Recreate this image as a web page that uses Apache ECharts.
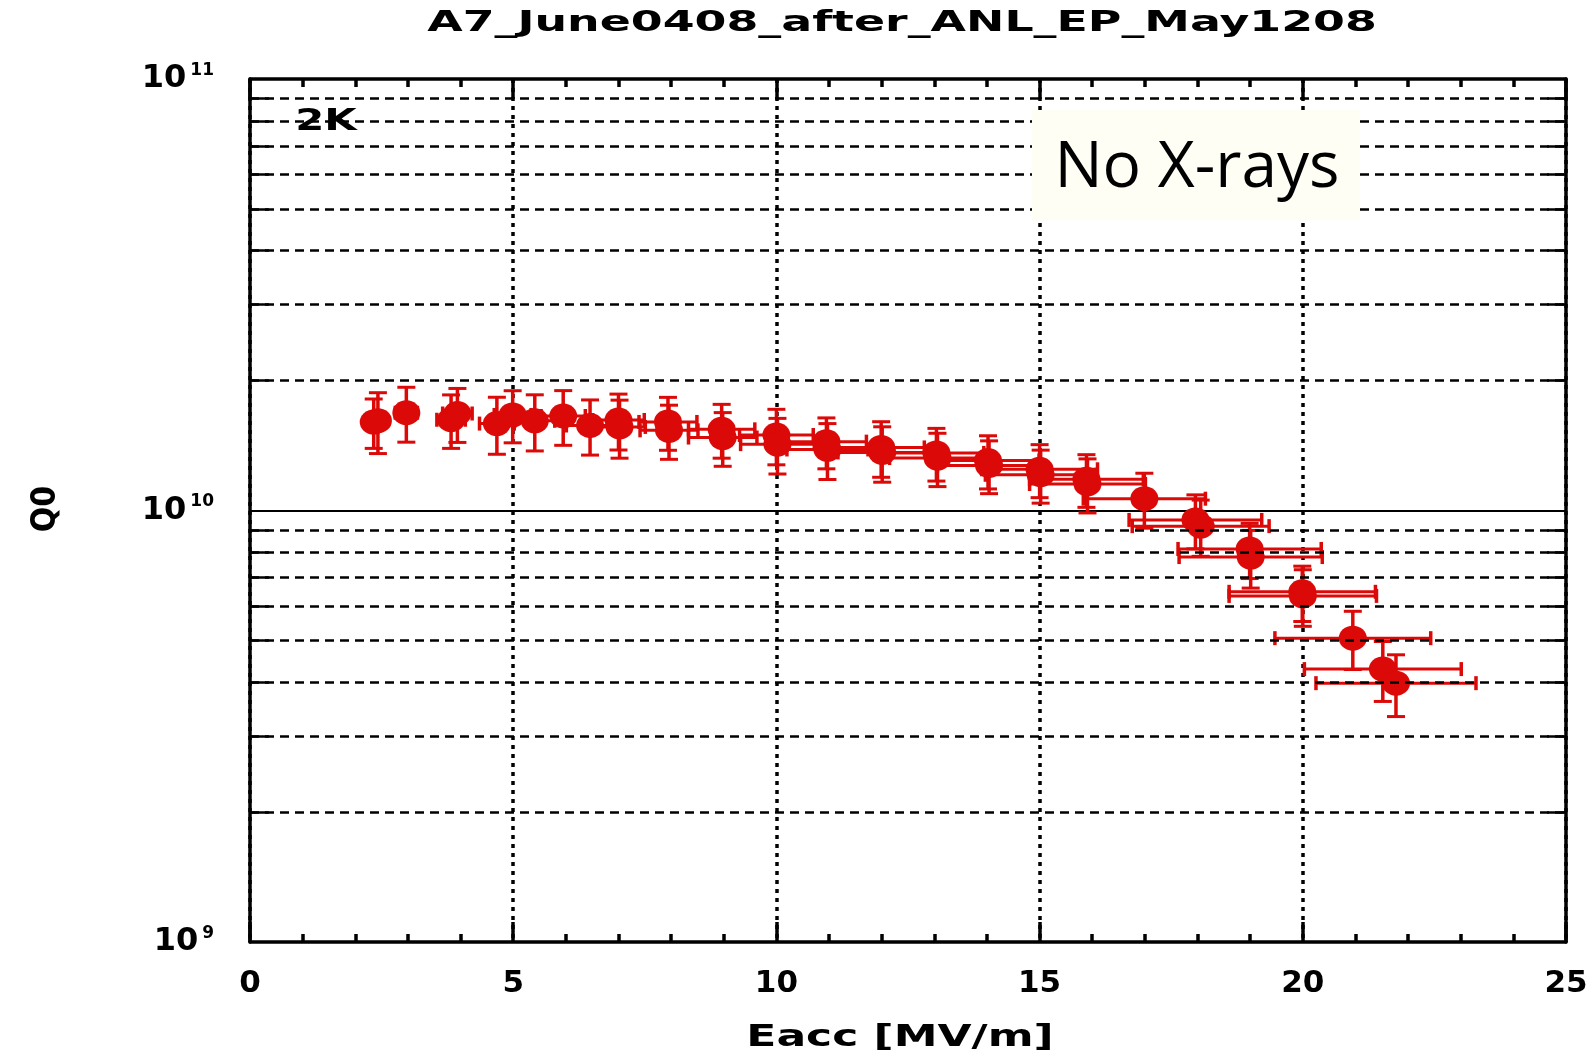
<!DOCTYPE html>
<html>
<head>
<meta charset="utf-8">
<script src="https://cdn.jsdelivr.net/npm/echarts@6/dist/echarts.min.js"></script>
<style>
html,body{margin:0;padding:0;background:#fff;}
#chart{width:1595px;height:1057px;}
</style>
</head>
<body>
<div id="chart"></div>
<script>
// ---- data ----
const eacc = [2.35, 2.43, 2.97, 3.82, 3.94, 4.69, 4.99, 5.41, 5.95, 6.46, 7.00, 7.02, 7.94, 7.96, 8.96, 8.98, 10.00, 10.02, 10.95, 10.97, 11.99, 12.01, 13.04, 13.06, 14.02, 14.04, 15.00, 15.02, 15.89, 15.91, 16.99, 17.96, 18.06, 18.99, 19.01, 19.99, 20.00, 20.95, 21.52, 21.77];
const q0 = [1.603e10, 1.615e10, 1.685e10, 1.623e10, 1.678e10, 1.590e10, 1.665e10, 1.614e10, 1.656e10, 1.574e10, 1.621e10, 1.562e10, 1.604e10, 1.534e10, 1.542e10, 1.476e10, 1.496e10, 1.425e10, 1.444e10, 1.385e10, 1.400e10, 1.363e10, 1.360e10, 1.323e10, 1.306e10, 1.272e10, 1.246e10, 1.210e10, 1.182e10, 1.152e10, 1.065e10, 9.51e9, 9.20e9, 8.145e9, 7.80e9, 6.48e9, 6.34e9, 5.06e9, 4.29e9, 3.98e9];
const eaccErr = [0.16, 0.17, 0.21, 0.27, 0.28, 0.33, 0.35, 0.38, 0.42, 0.45, 0.49, 0.49, 0.55, 0.55, 0.63, 0.65, 0.70, 0.70, 0.76, 0.77, 0.82, 0.84, 0.90, 0.91, 0.97, 0.98, 1.10, 1.05, 1.08, 1.10, 1.16, 1.26, 1.30, 1.36, 1.36, 1.39, 1.40, 1.48, 1.49, 1.52];
const q0Err = [0.21e10, 0.26e10, 0.245e10, 0.23e10, 0.24e10, 0.24e10, 0.23e10, 0.24e10, 0.24e10, 0.23e10, 0.24e10, 0.24e10, 0.225e10, 0.22e10, 0.22e10, 0.21e10, 0.22e10, 0.21e10, 0.195e10, 0.205e10, 0.206e10, 0.20e10, 0.19e10, 0.187e10, 0.184e10, 0.178e10, 0.175e10, 0.17e10, 0.165e10, 0.165e10, 0.155e10, 1.36e9, 1.37e9, 1.19e9, 1.19e9, 0.95e9, 0.95e9, 0.78e9, 0.68e9, 0.65e9];
const xTickLabels = ['0', '5', '10', '15', '20', '25'];
const yDecades = [1e9, 1e10, 1e11];
const minorGridValues = [2e9, 3e9, 4e9, 5e9, 6e9, 7e9, 8e9, 9e9, 2e10, 3e10, 4e10, 5e10, 6e10, 7e10, 8e10, 9e10];
const titleText = 'A7_June0408_after_ANL_EP_May1208';
const xAxisName = 'Eacc [MV/m]';
const yAxisName = 'Q0';
const tempLabel = '2K';
const noteText = 'No X-rays';

// ---- build chart ----
const RED = '#dc0909';
const chart = echarts.init(document.getElementById('chart'), null, {renderer: 'canvas'});

const errData = eacc.map((e, i) => [e, q0[i], e - eaccErr[i], e + eaccErr[i], q0[i] - q0Err[i], q0[i] + q0Err[i]]);
const ptData = eacc.map((e, i) => [e, q0[i]]);

const lblFont = {fontFamily: 'DejaVu Sans', fontWeight: 'bold', color: '#000'};

const markData = [];
minorGridValues.forEach(v => {
  markData.push({yAxis: v});
  markData.push([{coord: [0, v], lineStyle: {type: 'solid', width: 2.5}}, {coord: [0.36, v]}]);
  markData.push([{coord: [24.64, v], lineStyle: {type: 'solid', width: 2.5}}, {coord: [25, v]}]);
});

const option = {
  backgroundColor: '#ffffff',
  animation: false,
  grid: {left: 250, top: 79, width: 1316, height: 863, containLabel: false},
  xAxis: [{
    type: 'value', min: 0, max: 25, interval: 5, position: 'bottom',
    axisLine: {onZero: false, lineStyle: {color: '#000', width: 3.5}},
    axisTick: {inside: true, length: 20, lineStyle: {color: '#000', width: 3.5}},
    minorTick: {show: true, splitNumber: 5, length: 8, lineStyle: {color: '#000', width: 3.5}},
    splitLine: {show: true, lineStyle: {color: '#000', width: 3.5, type: [4, 5]}},
    axisLabel: Object.assign({fontSize: 31, margin: 26,
      formatter: v => xTickLabels[Math.round(v / 5)]}, lblFont)
  }, {
    type: 'value', min: 0, max: 25, interval: 5, position: 'top',
    axisLine: {onZero: false, lineStyle: {color: '#000', width: 3.5}},
    axisTick: {inside: true, length: 20, lineStyle: {color: '#000', width: 3.5}},
    minorTick: {show: true, splitNumber: 5, length: 8, lineStyle: {color: '#000', width: 3.5}},
    splitLine: {show: false},
    axisLabel: {show: false}
  }],
  yAxis: [{
    type: 'log', logBase: 10, min: yDecades[0], max: yDecades[2], position: 'left',
    axisLine: {onZero: false, lineStyle: {color: '#000', width: 3.5}},
    axisTick: {show: false},
    splitLine: {show: true, lineStyle: {color: '#000', width: 2, type: 'solid'}},
    axisLabel: {
      margin: 36,
      formatter: v => '{b|10}{s|' + Math.round(Math.log10(v)) + '}',
      rich: {
        b: Object.assign({fontSize: 32, lineHeight: 34}, lblFont),
        s: Object.assign({fontSize: 17, lineHeight: 17, verticalAlign: 'top', padding: [0, 0, 38, 4]}, lblFont)
      }
    }
  }, {
    type: 'log', logBase: 10, min: yDecades[0], max: yDecades[2], position: 'right',
    axisLine: {onZero: false, lineStyle: {color: '#000', width: 3.5}},
    axisTick: {show: false}, splitLine: {show: false}, axisLabel: {show: false}
  }],
  series: [{
    type: 'custom',
    xAxisIndex: 0, yAxisIndex: 0,
    data: errData,
    encode: {x: [0, 2, 3], y: [1, 4, 5]},
    z: 3,
    renderItem: function (params, api) {
      const x = api.value(0), y = api.value(1);
      const c = api.coord([x, y]);
      const l = api.coord([api.value(2), y]);
      const r = api.coord([api.value(3), y]);
      const b = api.coord([x, api.value(4)]);
      const t = api.coord([x, api.value(5)]);
      const hc = 9, vc = 7;
      const st = {stroke: RED, lineWidth: 3.5};
      const sh = {stroke: RED, lineWidth: 3};
      return {type: 'group', children: [
        {type: 'line', shape: {x1: c[0], y1: t[1], x2: c[0], y2: b[1]}, style: st},
        {type: 'line', shape: {x1: c[0] - hc, y1: t[1], x2: c[0] + hc, y2: t[1]}, style: sh},
        {type: 'line', shape: {x1: c[0] - hc, y1: b[1], x2: c[0] + hc, y2: b[1]}, style: sh},
        {type: 'line', shape: {x1: l[0], y1: c[1], x2: r[0], y2: c[1]}, style: sh},
        {type: 'line', shape: {x1: l[0], y1: c[1] - vc, x2: l[0], y2: c[1] + vc}, style: st},
        {type: 'line', shape: {x1: r[0], y1: c[1] - vc, x2: r[0], y2: c[1] + vc}, style: st}
      ]};
    }
  }, {
    type: 'scatter',
    xAxisIndex: 0, yAxisIndex: 0,
    data: ptData,
    symbol: 'circle',
    symbolSize: [28, 25],
    itemStyle: {color: RED, opacity: 1},
    z: 4,
    markLine: {
      silent: true, symbol: 'none', animation: false,
      label: {show: false},
      lineStyle: {color: '#000', width: 2.5, type: [9, 6]},
      emphasis: {disabled: true},
      data: markData
    }
  }],
  graphic: [
    {type: 'text', x: 902, y: 23, scaleX: 1.58, z: 20,
      style: {text: titleText, font: 'bold 29px "DejaVu Sans"', fill: '#000', textAlign: 'center', textVerticalAlign: 'middle'}},
    {type: 'text', x: 900, y: 1038, scaleX: 1.42, z: 20,
      style: {text: xAxisName, font: 'bold 31px "DejaVu Sans"', fill: '#000', textAlign: 'center', textVerticalAlign: 'middle'}},
    {type: 'text', x: 46, y: 509, rotation: Math.PI / 2, scaleY: 1.15, z: 20,
      style: {text: yAxisName, font: 'bold 30px "DejaVu Sans"', fill: '#000', textAlign: 'center', textVerticalAlign: 'middle'}},
    {type: 'text', x: 326, y: 122, scaleX: 1.35, z: 20,
      style: {text: tempLabel, font: 'bold 31px "DejaVu Sans"', fill: '#000', textAlign: 'center', textVerticalAlign: 'middle'}},
    {type: 'rect', z: 20, shape: {x: 1032, y: 110, width: 328, height: 110},
      style: {fill: '#fefef5', stroke: null}},
    {type: 'text', x: 1197, y: 169, z: 21,
      style: {text: noteText, font: '64px "Open Sans"', fill: '#000', textAlign: 'center', textVerticalAlign: 'middle'}}
  ]
};
chart.setOption(option);
</script>
</body>
</html>
